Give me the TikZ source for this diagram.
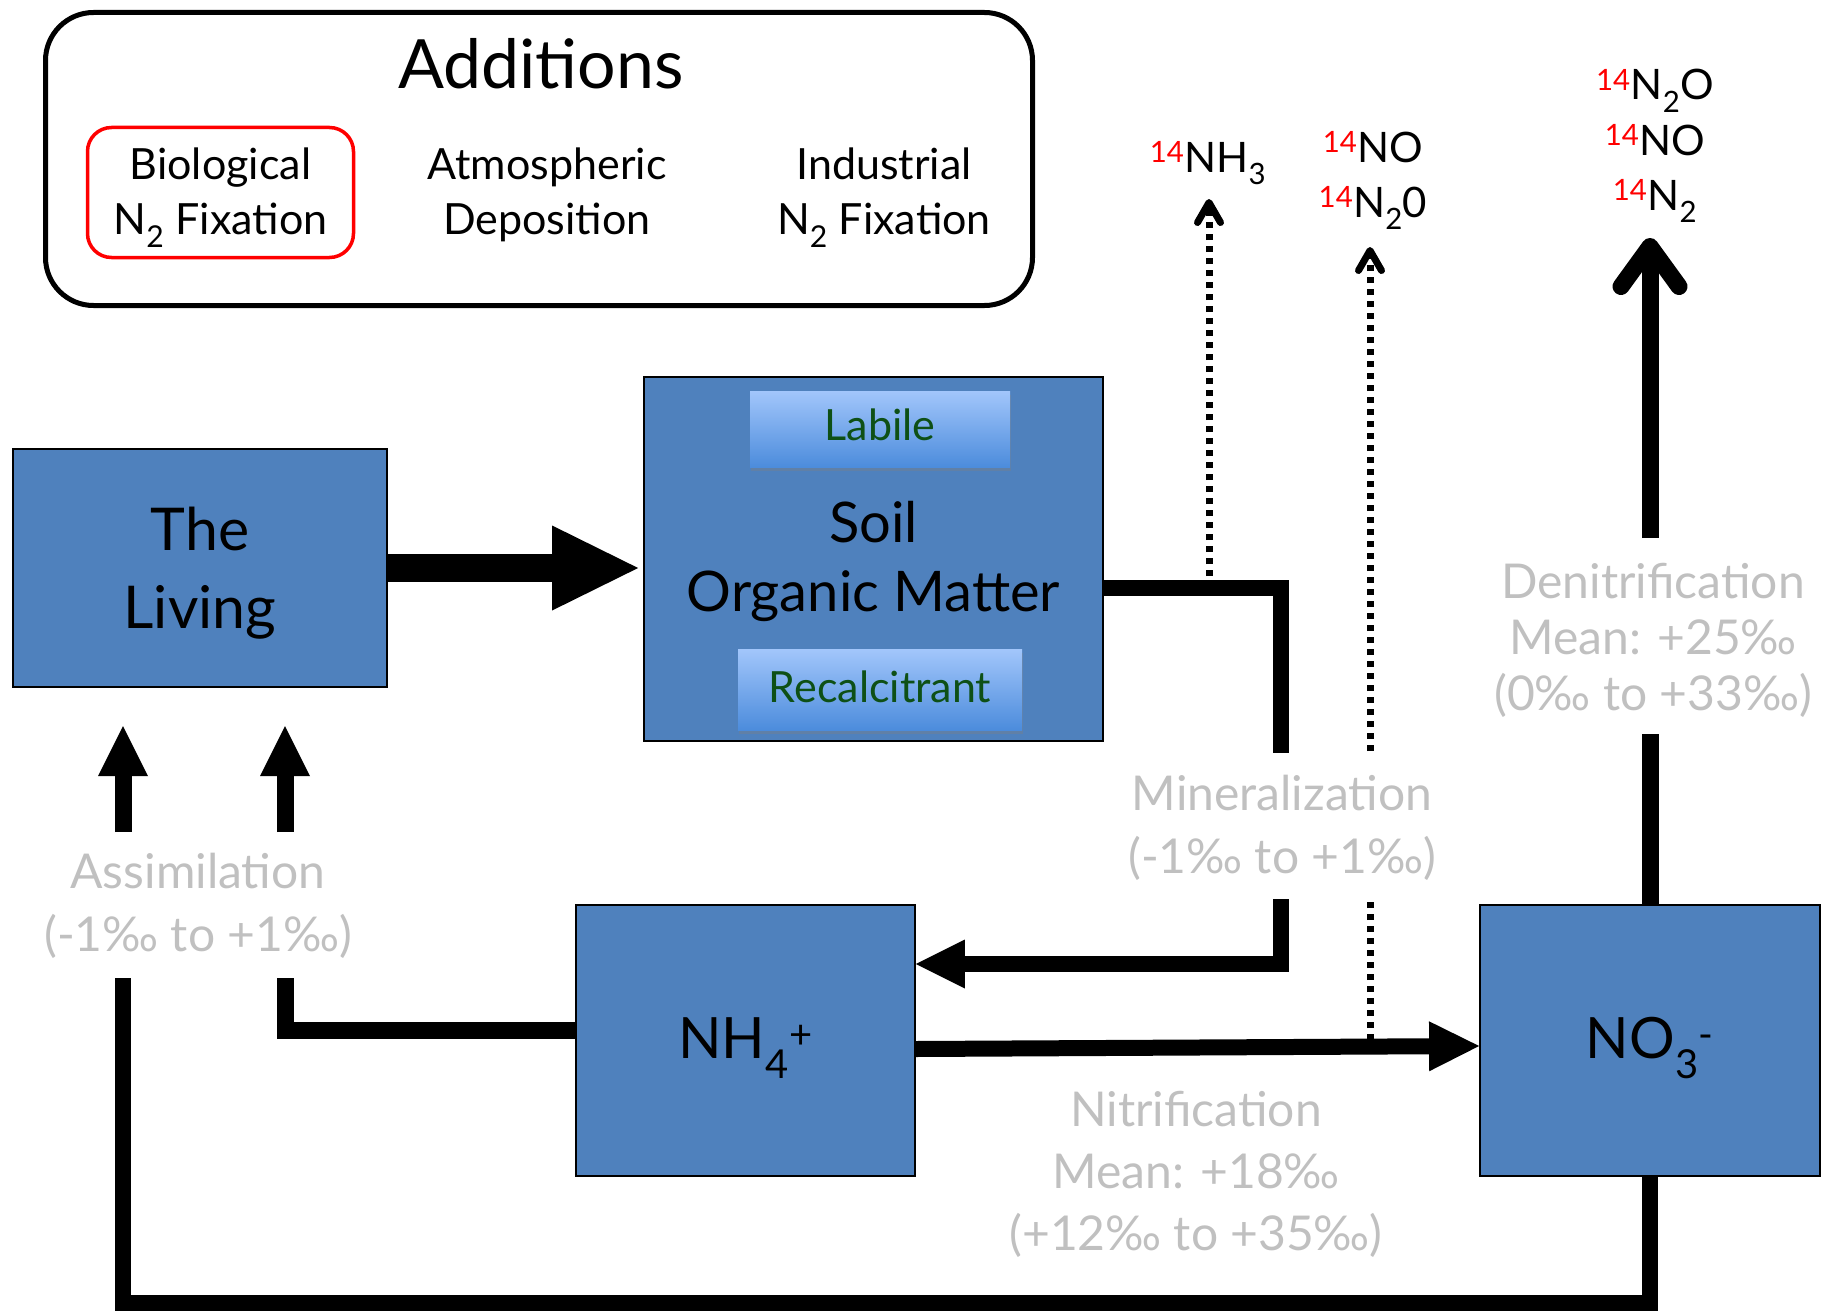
\documentclass[tikz,border=0pt]{standalone}
\usepackage{fontspec}
\setmainfont{Lato}
\usetikzlibrary{arrows.meta,shadows}
\definecolor{boxblue}{RGB}{79,129,189}
\definecolor{subtop}{RGB}{162,198,251}
\definecolor{subbot}{RGB}{76,140,220}
\definecolor{subgreen}{RGB}{14,80,22}
\definecolor{lgray}{RGB}{192,192,192}
\newcommand{\fsz}[2]{\fontsize{#1}{#2}\selectfont}
\newcommand{\iso}{{\color{red}\textsuperscript{14}}}
\begin{document}
\begin{tikzpicture}[x=1pt,y=-1pt,
  pool/.style={draw=black, line width=1.8pt, fill=boxblue, inner sep=0pt, align=center},
  pooltext/.style={inner sep=0pt, align=center},
  subpool/.style={top color=subtop, bottom color=subbot, draw=none, inner sep=0pt, text=subgreen,
     font=\fsz{43}{50}, text height=32pt, drop shadow={shadow xshift=1pt,shadow yshift=-4pt,opacity=0.35}},
  flow/.style={line width=16pt, line join=miter},
  proc/.style={text=lgray, align=center, inner sep=0pt},
  chem/.style={inner sep=0pt, anchor=base, font=\fsz{42}{50}},
  addl/.style={inner sep=0pt, align=center, font=\fsz{43}{55}},
  dotline/.style={line width=7pt, dash pattern=on 6pt off 6pt},
  tri/.style={-{Triangle[length=#1,width=#1,line width=0pt]}},
  barb/.style={-{Straight Barb[length=20pt,width=23pt,round]}},
]
\useasboundingbox (0,0) rectangle (1836,1311);

% Additions box
\node[draw, line width=5pt, rounded corners=48pt, minimum width=987pt, minimum height=293pt, inner sep=0pt] (add) at (539,159) {};
\node[anchor=base, inner sep=0pt, font=\fsz{68}{80}] (addt) at (541,89) {Additions};
\node[draw=red, line width=3.5pt, rounded corners=24pt, minimum width=266pt, minimum height=130pt, inner sep=0pt] (bio) at (220.5,192.5) {};
\node[addl] (biot) at (220.5,197.5) {Biological\\N\textsubscript{2} Fixation};
\node[addl] (atm) at (547,195) {Atmospheric\\Deposition};
\node[addl] (ind) at (884,198) {Industrial\\N\textsubscript{2} Fixation};

% pools
\node[pool, minimum width=374pt, minimum height=238pt] (living) at (200,568) {};
\node[pooltext, font=\fsz{59}{78}] (livingt) at (200,573) {The\\Living};
\node[pool, minimum width=459pt, minimum height=364pt] (soil) at (873.5,559) {};
\node[pooltext, font=\fsz{56}{69}] (soilt) at (873.5,561) {Soil\\Organic Matter};
\node[subpool, minimum width=260pt, minimum height=76pt, text depth=10pt] (labile) at (880,429) {Labile};
\node[subpool, minimum width=284pt, minimum height=81pt, text depth=7pt] (recalc) at (880,689.5) {Recalcitrant};
\node[pool, minimum width=339pt, minimum height=271pt, font=\fsz{57}{60}, text height=45pt, text depth=10pt] (nh4) at (745.5,1040.5) {NH\textsubscript{4}\textsuperscript{+}};
\node[pool, minimum width=340pt, minimum height=271pt, font=\fsz{57}{60}, text height=45pt, text depth=10pt] (no3) at (1650,1040.5) {NO\textsubscript{3}\textsuperscript{-}};

% gas labels
\node[chem] (nh3) at (1208,172) {\iso NH\textsubscript{3}};
\node[chem] (noa) at (1373,162) {\iso NO};
\node[chem] (n2oa) at (1373,217) {\iso N\textsubscript{2}0};
\node[chem] (n2ob) at (1655,100) {\iso N\textsubscript{2}O};
\node[chem] (nob) at (1655,155) {\iso NO};
\node[chem] (n2b) at (1655,210) {\iso N\textsubscript{2}};

% process labels
\node[proc, font=\fsz{48}{63}] (assim) at (198,906) {Assimilation\\(-1‰ to +1‰)};
\node[proc, font=\fsz{48}{63}] (miner) at (1282,828) {Mineralization\\(-1‰ to +1‰)};
\node[proc, font=\fsz{48}{62}] (nitri) at (1196,1174) {Nitrification\\Mean: +18‰\\(+12‰ to +35‰)};
\node[proc, font=\fsz{48}{56}] (denit) at (1653,640) {Denitrification\\Mean: +25‰\\(0‰ to +33‰)};

% coordinates
\coordinate (m1) at (1281,588);
\coordinate (mgt) at (1281,753);
\coordinate (mgb) at (1281,899);
\coordinate (m2) at (1281,964);
\coordinate (nh3s) at (1209,588);
\coordinate (nh3e) at (1209,199);
\coordinate (nos) at (1370,1040);
\coordinate (nogb) at (1370,900);
\coordinate (nogt) at (1370,751);
\coordinate (noe) at (1370,247);
\coordinate (dgb) at (1650,734);
\coordinate (dgt) at (1650,538);
\coordinate (de) at (1650,238);
\coordinate (bl) at (123,1303);
\coordinate (alb) at (123,978);
\coordinate (alt) at (123,832);
\coordinate (ale) at (123,726);
\coordinate (ar1) at (285,1030);
\coordinate (arb) at (285,978);
\coordinate (art) at (285,832);
\coordinate (are) at (285,726);

% Living -> SOM
\draw[line width=28pt, -{Triangle[length=86pt,width=85pt,line width=0pt]}, shorten >=5pt] (living.east) -- (living.east -| soil.west);

% mineralization
\draw[flow] (soil.east |- m1) -- (m1) -- (mgt);
\draw[flow, tri=49pt] (mgb) -- (m2) -- (m2 -| nh4.east);

% nitrification
\draw[flow, tri=50pt] (nh4.east |- 0,1049) -- (no3.west |- 0,1046);

% dotted gas losses
\draw[dotline, barb] (nh3s) -- (nh3e);
\draw[dotline] (nos) -- (nogb);
\draw[dotline, barb] (nogt) -- (noe);

% denitrification
\draw[line width=17pt] (no3.north) -- (dgb);
\draw[line width=17pt, -{Straight Barb[length=40pt,width=58pt,round]}] (dgt) -- (de);

% assimilation
\draw[flow] (no3.south) -- (no3.south |- bl) -- (bl) -- (alb);
\draw[line width=17pt, tri=50pt] (alt) -- (ale);
\draw[line width=17pt, line join=miter] (nh4.west |- ar1) -- (ar1) -- (arb);
\draw[line width=17pt, tri=50pt] (art) -- (are);
\end{tikzpicture}
\end{document}
